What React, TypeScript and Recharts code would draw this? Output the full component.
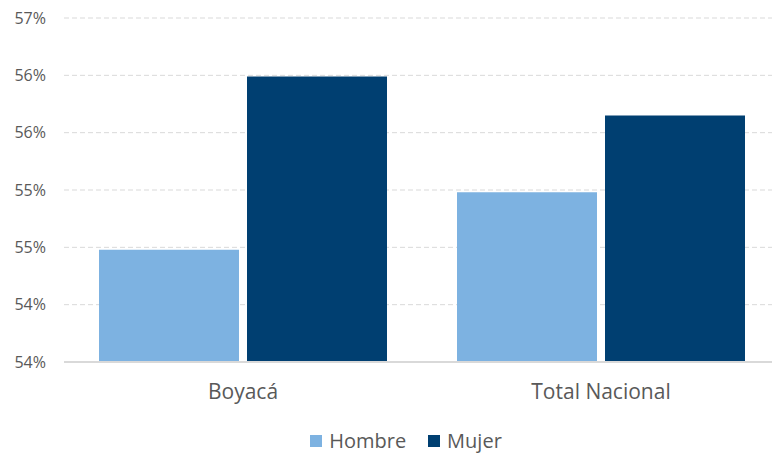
import React from "react";
import {
  BarChart,
  Bar,
  XAxis,
  YAxis,
  CartesianGrid,
  Legend,
} from "recharts";

const categories = ["Boyacá", "Total Nacional"];
const hombre = [54.48, 54.98];
const mujer = [55.99, 55.65];
const yTicks = [53.5, 54, 54.5, 55, 55.5, 56, 56.5];

const data = categories.map((name, i) => ({
  name,
  Hombre: hombre[i],
  Mujer: mujer[i],
}));

const FONT = "'Open Sans', 'Liberation Sans', sans-serif";
const LIGHT = "#7DB2E1";
const DARK = "#003F71";

// excel-style rounding, 53.5 -> 54%
const fmtPct = (v: number) => `${Math.round(v + 1e-9)}%`;

const renderLegend = () => (
  <div
    style={{
      display: "flex",
      justifyContent: "center",
      alignItems: "center",
      gap: 22,
      fontFamily: FONT,
      fontSize: 20,
      lineHeight: "24px",
      color: "#595959",
    }}
  >
    {[
      { label: "Hombre", color: LIGHT },
      { label: "Mujer", color: DARK },
    ].map((it) => (
      <div key={it.label} style={{ display: "flex", alignItems: "center", gap: 7 }}>
        <div style={{ width: 12, height: 12, background: it.color }} />
        <span>{it.label}</span>
      </div>
    ))}
  </div>
);

export default function App() {
  return (
    <div
      style={{
        position: "absolute",
        left: 0,
        top: 0,
        width: 772,
        height: 453,
        overflow: "hidden",
        background: "#fff",
      }}
    >
      <BarChart
        width={790}
        height={453}
        data={data}
        margin={{ top: 18, right: 10, left: 0, bottom: 37 }}
        barCategoryGap={35}
        barGap={8}
      >
        <CartesianGrid
          vertical={false}
          stroke="#D9D9D9"
          strokeDasharray="5 3"
        />
        <XAxis
          dataKey="name"
          height={30}
          tickLine={false}
          axisLine={{ stroke: "#D9D9D9", strokeWidth: 2 }}
          tickMargin={16}
          tick={{ fill: "#595959", fontSize: 21, fontFamily: FONT }}
        />
        <YAxis
          width={64}
          domain={[53.5, 56.5]}
          ticks={yTicks}
          tickFormatter={fmtPct}
          axisLine={false}
          tickLine={false}
          tickMargin={12}
          tick={{ fill: "#595959", fontSize: 16, fontFamily: FONT }}
        />
        <Legend
          verticalAlign="bottom"
          content={renderLegend}
          wrapperStyle={{ top: 429, left: 20, width: 772, height: 24 }}
        />
        <Bar dataKey="Hombre" fill={LIGHT} isAnimationActive={false} />
        <Bar dataKey="Mujer" fill={DARK} isAnimationActive={false} />
      </BarChart>
    </div>
  );
}
